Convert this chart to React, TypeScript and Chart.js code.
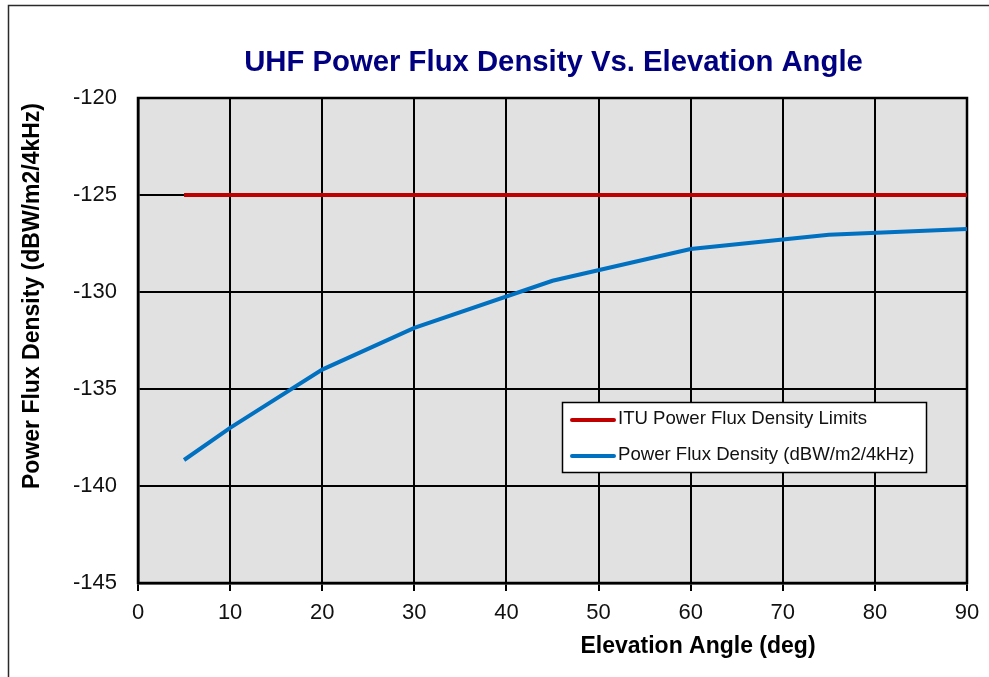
import React, { useEffect, useRef } from "react";
import { Chart, registerables } from "chart.js";

Chart.register(...registerables);

// ---- Data ----
const angles = [5, 10, 20, 30, 45, 60, 75, 90];
const ituLimits = [-125, -125, -125, -125, -125, -125, -125, -125];
const pfdValues = [-138.66, -137.0, -134.0, -131.85, -129.42, -127.78, -127.05, -126.75];

const chartTitle = "UHF Power Flux Density Vs. Elevation Angle";
const xTitle = "Elevation Angle (deg)";
const yTitle = "Power Flux Density (dBW/m2/4kHz)";
const seriesLabels = ["ITU Power Flux Density Limits", "Power Flux Density (dBW/m2/4kHz)"];
const seriesColors = ["#C00000", "#0070C0"];

const xMin = 0, xMax = 90, xStep = 10;
const yMin = -145, yMax = -120, yStep = 5;

const FONT = '"Liberation Sans", Arial, sans-serif';

const decorPlugin = {
  id: "decor",
  beforeDraw(chart: any) {
    const { ctx, chartArea } = chart;
    const { left, top, right, bottom } = chartArea;
    ctx.save();
    ctx.fillStyle = "#ffffff";
    ctx.fillRect(0, 0, chart.width, chart.height);
    ctx.fillStyle = "#e1e1e1";
    ctx.fillRect(left, top, right - left, bottom - top);
    ctx.strokeStyle = "#2a2a2a";
    ctx.lineWidth = 1.5;
    ctx.strokeRect(8.5, 5.5, chart.width + 40, chart.height + 40);
    ctx.restore();
  },
  beforeDatasetsDraw(chart: any) {
    const { ctx, chartArea } = chart;
    const { left, top, right, bottom } = chartArea;
    ctx.save();
    ctx.strokeStyle = "#000";
    ctx.lineWidth = 2.5;
    ctx.strokeRect(left, top, right - left, bottom - top);
    ctx.restore();
  },
  afterDraw(chart: any) {
    const { ctx, chartArea } = chart;
    const { left, right } = chartArea;
    ctx.save();
    // Title
    ctx.fillStyle = "#000080";
    ctx.font = `bold 29.3px ${FONT}`;
    ctx.textAlign = "center";
    ctx.textBaseline = "middle";
    ctx.fillText(chartTitle, (left + right) / 2 + 1, 63);
    // X title
    ctx.fillStyle = "#000";
    ctx.font = `bold 23px ${FONT}`;
    ctx.fillText(xTitle, 698, 647);
    // Y title
    ctx.save();
    ctx.translate(33, 296);
    ctx.rotate(-Math.PI / 2);
    ctx.fillText(yTitle, 0, 0);
    ctx.restore();

    // Legend
    const bx = 562.5, by = 402.5, bw = 364, bh = 70;
    ctx.fillStyle = "#fff";
    ctx.fillRect(bx, by, bw, bh);
    ctx.strokeStyle = "#000";
    ctx.lineWidth = 1.5;
    ctx.strokeRect(bx, by, bw, bh);
    chart.data.datasets.forEach((ds: any, i: number) => {
      const y = 420 + i * 36;
      ctx.strokeStyle = ds.borderColor;
      ctx.lineWidth = 4;
      ctx.lineCap = "round";
      ctx.beginPath();
      ctx.moveTo(572, y);
      ctx.lineTo(614, y);
      ctx.stroke();
      ctx.fillStyle = "#111";
      ctx.font = `18.6px ${FONT}`;
      ctx.textAlign = "left";
      ctx.textBaseline = "middle";
      ctx.fillText(ds.label, 618, y - 1);
    });
    ctx.restore();
  },
};

export default function App() {
  const ref = useRef<HTMLCanvasElement | null>(null);
  useEffect(() => {
    if (!ref.current) return;
    const chart = new Chart(ref.current, {
      type: "line",
      data: {
        datasets: [
          {
            label: seriesLabels[0],
            data: angles.map((a, i) => ({ x: a, y: ituLimits[i] })),
            borderColor: seriesColors[0],
            backgroundColor: seriesColors[0],
            borderWidth: 4,
            pointRadius: 0,
            tension: 0,
          },
          {
            label: seriesLabels[1],
            data: angles.map((a, i) => ({ x: a, y: pfdValues[i] })),
            borderColor: seriesColors[1],
            backgroundColor: seriesColors[1],
            borderWidth: 4,
            pointRadius: 0,
            tension: 0,
          },
        ],
      },
      options: {
        responsive: false,
        animation: false,
        devicePixelRatio: 1,
        layout: { padding: { left: 0, top: 98, right: 22, bottom: 0 } },
        plugins: {
          legend: { display: false },
          title: { display: false },
          tooltip: { enabled: false },
        },
        scales: {
          x: {
            type: "linear",
            min: xMin,
            max: xMax,
            ticks: {
              stepSize: xStep,
              color: "#111",
              font: { family: FONT, size: 22 },
              padding: 9,
              maxRotation: 0,
            },
            grid: { color: "#000", lineWidth: 2, tickLength: 8, drawTicks: true },
            border: { display: true, color: "#000", width: 2.5 },
            afterFit: (s: any) => { s.height = 94; },
          },
          y: {
            type: "linear",
            min: yMin,
            max: yMax,
            ticks: {
              stepSize: yStep,
              color: "#111",
              font: { family: FONT, size: 22 },
              padding: 21,
            },
            grid: { color: "#000", lineWidth: 2, drawTicks: false },
            border: { display: true, color: "#000", width: 2.5 },
            afterFit: (s: any) => { s.width = 138; },
          },
        },
      },
      plugins: [decorPlugin],
    } as any);
    return () => chart.destroy();
  }, []);
  return (
    <div style={{ position: "fixed", left: 0, top: 0, width: 989, height: 677 }}>
      <canvas ref={ref} width={989} height={677} style={{ display: "block" }} />
    </div>
  );
}
